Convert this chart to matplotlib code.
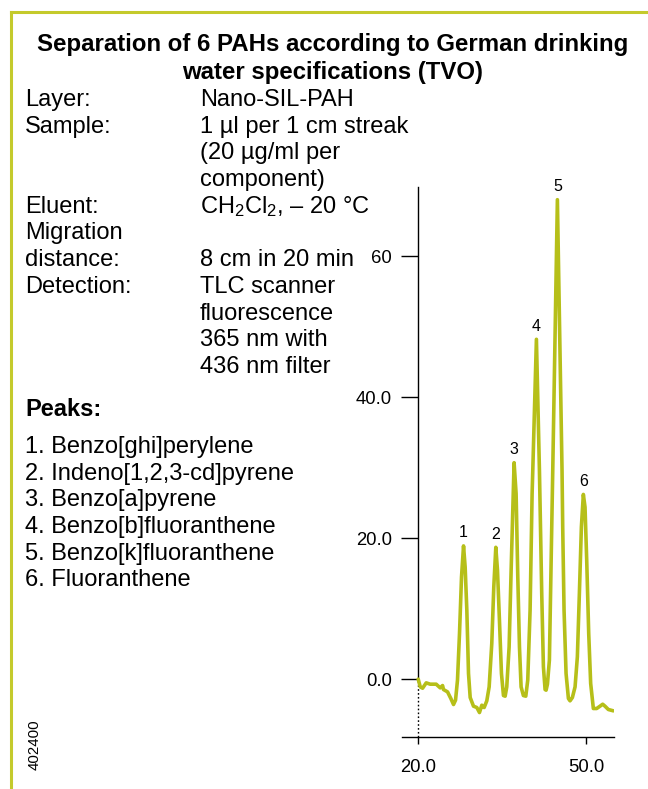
import matplotlib
matplotlib.use("Agg")
import matplotlib.pyplot as plt
from matplotlib.lines import Line2D

plt.rcParams['font.family'] = ['Liberation Sans', 'DejaVu Sans']
plt.rcParams['mathtext.fontset'] = 'custom'
plt.rcParams['mathtext.rm'] = 'Liberation Sans'
plt.rcParams['mathtext.it'] = 'Liberation Sans:italic'
plt.rcParams['mathtext.bf'] = 'Liberation Sans:bold'

# ---- densitogram trace (migration position vs. fluorescence signal) ----
trace_x = [20.0, 20.36, 20.78, 21.43, 22.14, 23.21, 23.93, 24.35, 24.52, 25.24,
           25.83, 26.31, 26.67, 27.02, 27.38, 27.74, 28.10, 28.39, 28.69, 28.99,
           29.29, 29.88, 30.48, 30.95, 31.37, 31.79, 32.26, 32.68, 33.15, 33.51,
           33.87, 34.17, 34.52, 34.88, 35.24, 35.54, 35.83, 36.25, 36.61, 37.14,
           37.50, 37.80, 38.10, 38.39, 38.80, 39.23, 39.58, 40.00, 40.36, 40.48,
           41.13, 41.67, 42.08, 42.38, 42.68, 42.86, 43.10, 43.45, 43.87, 44.05,
           44.88, 45.71, 45.83, 46.07, 46.43, 46.85, 47.14, 47.56, 48.04, 48.45,
           48.81, 49.17, 49.52, 49.82, 50.12, 50.48, 50.83, 51.31, 51.90, 52.50,
           52.98, 53.39, 53.99, 54.88]
trace_y = [0.0, -1.09, -1.28, -0.52, -0.71, -0.71, -1.23, -0.90, -1.47, -1.80,
           -2.74, -3.59, -2.97, -0.14, 6.48, 14.5, 18.9, 15.9, 9.79, 0.80,
           -2.60, -3.83, -4.02, -4.73, -3.69, -4.02, -3.07, -1.09, 5.06, 13.1,
           18.7, 15.46, 8.37, 0.80, -2.32, -2.41, -1.09, 4.58, 15.46, 30.7,
           26.3, 14.5, 4.58, -1.09, -2.32, -2.41, -0.14, 9.80, 26.3, 29.6,
           48.2, 29.6, 12.15, 1.75, -1.47, -1.56, -0.71, 2.70, 21.6, 29.6,
           68.0, 29.6, 21.6, 9.80, 0.80, -2.74, -3.07, -2.60, -1.09, 3.17,
           12.15, 21.6, 26.2, 24.4, 16.9, 6.48, -0.61, -4.16, -4.16, -3.83,
           -3.55, -3.83, -4.30, -4.49]

peak_x = [28.10, 33.87, 37.14, 41.13, 44.88, 49.52]
peak_y = [18.9, 18.7, 30.7, 48.2, 68.0, 26.2]
peak_labels = ["1", "2", "3", "4", "5", "6"]

y_ticks = [0, 20, 40, 60]
y_tick_labels = ["0.0", "20.0", "40.0", "60"]
x_ticks = [20, 50]
x_tick_labels = ["20.0", "50.0"]

title_lines = ["Separation of 6 PAHs according to German drinking",
               "water specifications (TVO)"]
info_labels = ["Layer:", "Sample:", "", "", "Eluent:", "Migration", "distance:",
               "Detection:", "", "", ""]
info_values = ["Nano-SIL-PAH", "1 µl per 1 cm streak", "(20 µg/ml per",
               "component)", r"CH$_2$Cl$_2$, – 20 °C", "", "8 cm in 20 min",
               "TLC scanner", "fluorescence", "365 nm with", "436 nm filter"]
peak_names = ["1. Benzo[ghi]perylene", "2. Indeno[1,2,3-cd]pyrene",
              "3. Benzo[a]pyrene", "4. Benzo[b]fluoranthene",
              "5. Benzo[k]fluoranthene", "6. Fluoranthene"]
doc_number = "402400"

LINE_COLOR = "#b6bf19"
FRAME_COLOR = "#c4ca2c"

W, H = 648, 789
fig = plt.figure(figsize=(W / 100, H / 100), dpi=100)


def fx(px):
    return px / W


def fy(py):
    return 1 - py / H


# frame lines on the top and left edge
fig.add_artist(Line2D([fx(11), fx(11)], [fy(12), 0], color=FRAME_COLOR, lw=2.2))
fig.add_artist(Line2D([fx(11), 1], [fy(12), fy(12)], color=FRAME_COLOR, lw=2.2))

# title
for i, t in enumerate(title_lines):
    fig.text(fx(333), fy(45 + 27 * i), t, ha="center", va="center",
             fontsize=17.3, fontweight="bold")

# method description
body_size = 17.0
line_step = 26.7
for i, (lab, val) in enumerate(zip(info_labels, info_values)):
    yb = 106 + line_step * i
    if lab:
        fig.text(fx(25), fy(yb), lab, ha="left", va="baseline", fontsize=body_size)
    if val:
        fig.text(fx(200), fy(yb), val, ha="left", va="baseline", fontsize=body_size)

fig.text(fx(25), fy(416), "Peaks:", ha="left", va="baseline",
         fontsize=body_size, fontweight="bold")
for i, name in enumerate(peak_names):
    fig.text(fx(25), fy(453 + line_step * i), name, ha="left", va="baseline",
             fontsize=body_size)

fig.text(fx(35), fy(745), doc_number, rotation=90, ha="center", va="center",
         fontsize=10.8)

# chart
ax = fig.add_axes([fx(402), fy(737), (614 - 402) / W, (737 - 187) / H])
ax.set_xlim(17.1, 55.0)
ax.set_ylim(-8.2, 69.8)
ax.patch.set_alpha(0)

ax.plot(trace_x, trace_y, color=LINE_COLOR, lw=2.6, solid_joinstyle="round",
        solid_capstyle="round", zorder=3)

for xp, yp, lab in zip(peak_x, peak_y, peak_labels):
    ax.annotate(lab, (xp, yp), xytext=(0, 4), textcoords="offset points",
                ha="center", va="bottom", fontsize=11.5)

for side in ("top", "right"):
    ax.spines[side].set_visible(False)
ax.spines["left"].set_position(("data", 20))
ax.spines["left"].set_bounds(0, 69.8)
ax.spines["left"].set_linewidth(1.0)
ax.spines["bottom"].set_linewidth(1.0)

ax.plot([20, 20], [-8.2, 0], color="black", lw=1.0, ls=(0, (1.2, 1.6)),
        clip_on=False, zorder=2)

ax.set_yticks(y_ticks)
ax.set_yticklabels(y_tick_labels)
ax.set_xticks(x_ticks)
ax.set_xticklabels(x_tick_labels)
ax.tick_params(axis="y", direction="out", length=12.2, width=1.0, pad=6.5,
               labelsize=13.3)
ax.tick_params(axis="x", direction="out", length=5.0, width=1.0, pad=10.5,
               labelsize=13.3)

fig.savefig("out.png", dpi=100)
